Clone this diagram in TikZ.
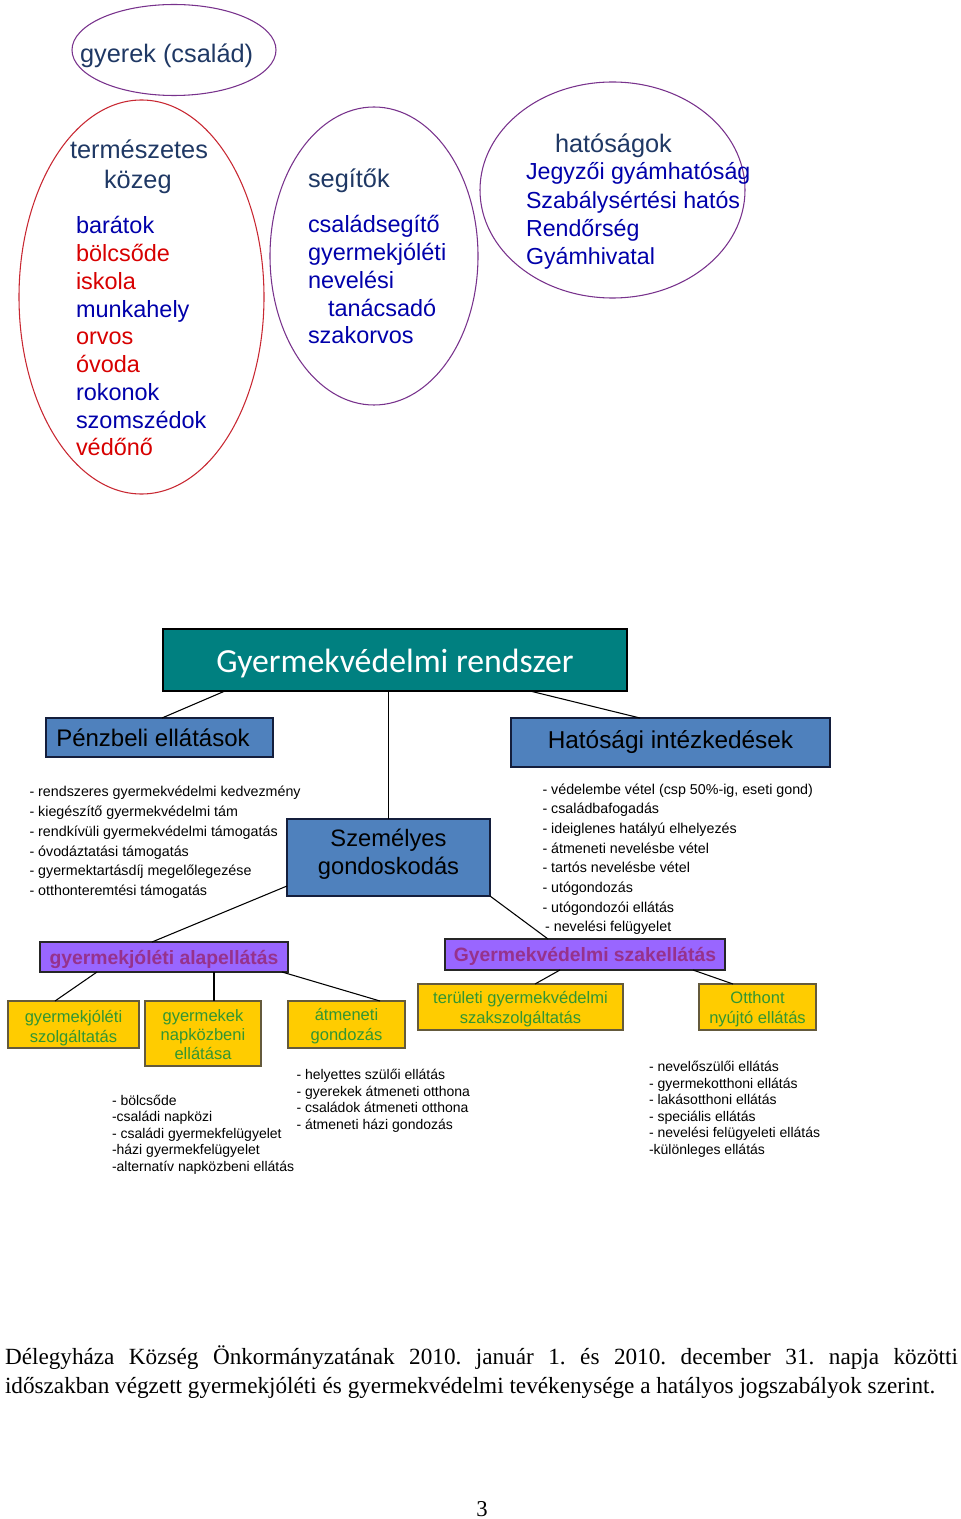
\documentclass[tikz,border=0pt]{standalone}
\usepackage{fontspec}
\setmainfont{Liberation Serif}
\newfontfamily\arial{Liberation Sans}
\newfontfamily\calib{Carlito}
\usetikzlibrary{shapes.geometric,calc}
\definecolor{ellpurple}{RGB}{120,50,140}
\definecolor{ellred}{RGB}{200,40,50}
\definecolor{hdcol}{RGB}{31,56,100}
\definecolor{itblue}{RGB}{0,0,170}
\definecolor{itred}{RGB}{215,0,0}
\definecolor{tealfill}{RGB}{0,128,128}
\definecolor{bluefill}{RGB}{79,129,189}
\definecolor{bluedraw}{RGB}{20,30,60}
\definecolor{purfill}{RGB}{153,102,255}
\definecolor{purtext}{RGB}{150,50,140}
\definecolor{yelfill}{RGB}{255,204,0}
\definecolor{yeldraw}{RGB}{100,90,60}
\definecolor{grtext}{RGB}{50,150,50}
\frenchspacing
\newcommand\dn[2]{\raisebox{-#1}[\height][\depth]{#2}}
\begin{document}
\begin{tikzpicture}[x=0.75pt,y=-0.75pt,
  every node/.style={inner sep=0pt, outer sep=0pt},
  ell/.style={draw=ellpurple, line width=0.8pt, ellipse, inner sep=0pt},
  hd/.style={anchor=base west, text=hdcol, font=\arial\fontsize{19}{22.5}\selectfont},
  itm/.style={anchor=base west, font=\arial\fontsize{17.6}{20.8}\selectfont},
  lst/.style={anchor=base west, font=\arial\fontsize{10.7}{14.9}\selectfont},
  lsts/.style={anchor=base west, font=\arial\fontsize{10.5}{12.4}\selectfont},
  bluebox/.style={draw=bluedraw, fill=bluefill, line width=1.5pt, align=center, font=\arial\fontsize{18.3}{21}\selectfont},
  purbox/.style={draw=black!85, fill=purfill, line width=1.2pt, text=purtext, font=\arial\bfseries\fontsize{14.5}{17}\selectfont},
  yelbox/.style={draw=yeldraw, fill=yelfill, line width=1pt, text=grtext, align=center, font=\arial\fontsize{12.4}{15}\selectfont},
  conn/.style={draw=black, line width=0.8pt}
]
\useasboundingbox (0,0) rectangle (960,1519);

% ---------- ellipses ----------
\node[ell, minimum width=153pt, minimum height=68.25pt] (e0) at (174,50) {};
\node[hd] (t0) at (80,63) {gyerek (család)};

\node[ell, draw=ellred, minimum width=183.75pt, minimum height=295.5pt] (e1) at (141.5,297) {};
\node[hd] (t1) at (70,159) {\parbox[t]{130pt}{természetes\\\hspace*{25.5pt}közeg}};
\node[itm] (l1) at (76,234) {\parbox[t]{120pt}{\leavevmode\color{itblue}barátok\\
\color{itred}bölcsőde\\
\color{itred}iskola\\
\color{itblue}munkahely\\
\color{itred}orvos\\
\color{itred}óvoda\\
\color{itblue}rokonok\\
\color{itblue}szomszédok\\
\color{itred}védőnő}};

\node[ell, minimum width=156pt, minimum height=223.5pt] (e2) at (374,256) {};
\node[hd] (t2) at (308,188) {segítők};
\node[itm, text=itblue] (l2) at (308,233) {\parbox[t]{130pt}{családsegítő\\
gyermekjóléti\\
nevelési\\
\hspace*{15pt}tanácsadó\\
szakorvos}};

\node[ell, minimum width=198.75pt, minimum height=162pt] (e3) at (612.5,190) {};
\node[hd] (t3) at (555,153) {hatóságok};
\node[itm, text=itblue, font=\arial\fontsize{17.4}{21.2}\selectfont] (l3) at (526,180) {\parbox[t]{180pt}{Jegyzői gyámhatóság\\
Szabálysértési hatós\\
Rendőrség\\
Gyámhivatal}};

% ---------- chart boxes ----------
\node[draw=black, fill=tealfill, line width=2.2pt, minimum width=348pt, minimum height=46.5pt,
      text=white, font=\calib\fontsize{25.3}{28}\selectfont] (root) at (395,660) {\dn{3pt}{Gyermekvédelmi rendszer}};
\node[bluebox, minimum width=170.25pt, minimum height=29.25pt, font=\arial\fontsize{18}{20}\selectfont] (pen) at (159.5,737.5) {\hspace*{-9.75pt}Pénzbeli ellátások};
\node[bluebox, minimum width=239.25pt, minimum height=36.75pt] (hat) at (670.5,742.5) {Hatósági intézkedések};
\node[bluebox, minimum width=152.25pt, minimum height=57.75pt, font=\arial\fontsize{17.8}{21}\selectfont] (szem) at (388.5,857.5) {\dn{-2.25pt}{\begin{tabular}{@{}c@{}}Személyes\\gondoskodás\end{tabular}}};

\node[purbox, minimum width=186pt, minimum height=22.5pt] (alap) at (164,957) {\dn{1.5pt}{gyermekjóléti alapellátás}};
\node[purbox, minimum width=210pt, minimum height=23.25pt] (szak) at (585,954.5) {\dn{1.5pt}{Gyermekvédelmi szakellátás}};

\node[yelbox, minimum width=98.25pt, minimum height=35.25pt] (y1) at (73.5,1024.5) {\dn{3pt}{\begin{tabular}{@{}c@{}}gyermekjóléti\\szolgáltatás\end{tabular}}};
\node[yelbox, minimum width=87pt, minimum height=48.75pt, font=\arial\fontsize{12.4}{14.3}\selectfont] (y2) at (203,1033.5) {\dn{2.25pt}{\begin{tabular}{@{}c@{}}gyermekek\\napközbeni\\ellátása\end{tabular}}};
\node[yelbox, minimum width=87.75pt, minimum height=35.25pt] (y3) at (346.5,1024.5) {\dn{1.5pt}{\begin{tabular}{@{}c@{}}átmeneti\\gondozás\end{tabular}}};
\node[yelbox, minimum width=153.75pt, minimum height=34.5pt] (y4) at (520.5,1007) {\dn{2pt}{\begin{tabular}{@{}c@{}}területi gyermekvédelmi\\szakszolgáltatás\end{tabular}}};
\node[yelbox, minimum width=87.75pt, minimum height=34.5pt] (y5) at (757.5,1007) {\dn{2pt}{\begin{tabular}{@{}c@{}}Otthont\\nyújtó ellátás\end{tabular}}};

% ---------- connectors ----------
\draw[conn] ($(root.south west)+(62,0)$) -- ($(pen.north west)+(116,0)$);
\draw[conn] (szem.north) -- (szem.north |- root.south);
\draw[conn] ($(root.south west)+(367,0)$) -- ($(hat.north west)+(129,0)$);
\draw[conn] ($(szem.south west)+(0,-10)$) -- ($(alap.north west)+(112,0)$);
\draw[conn] (szem.south east) -- ($(szak.north west)+(103,0)$);
\draw[conn] ($(alap.south west)+(57,0)$) -- ($(y1.north west)+(47,0)$);
\draw[conn] ($(alap.south west)+(174,0)$) -- ($(y2.north west)+(69,0)$);
\draw[conn] ($(alap.south west)+(242,0)$) -- ($(y3.north west)+(92,0)$);
\draw[conn] ($(szak.south west)+(115,0)$) -- ($(y4.north west)+(117,0)$);
\draw[conn] ($(szak.south west)+(248,0)$) -- ($(y5.north west)+(34,0)$);

% ---------- lists ----------
\node[lst] (pl) at (29.5,796.5) {\parbox[t]{220pt}{- rendszeres gyermekvédelmi kedvezmény\\
- kiegészítő gyermekvédelmi tám\\
- rendkívüli gyermekvédelmi támogatás\\
- óvodáztatási támogatás\\
- gyermektartásdíj megelőlegezése\\
- otthonteremtési támogatás}};

\node[lst, font=\arial\fontsize{10.7}{14.75}\selectfont] (hl) at (542.5,794) {\parbox[t]{230pt}{- védelembe vétel (csp 50\%-ig, eseti gond)\\
- családbafogadás\\
- ideiglenes hatályú elhelyezés\\
- átmeneti nevelésbe vétel\\
- tartós nevelésbe vétel\\
- utógondozás\\
- utógondozói ellátás\\
\hspace*{2pt}- nevelési felügyelet}};

\node[lsts] (bl) at (112,1105) {\parbox[t]{160pt}{- bölcsőde\\
-családi napközi\\
- családi gyermekfelügyelet\\
-házi gyermekfelügyelet\\
-alternatív napközbeni ellátás}};

\node[lsts, font=\arial\fontsize{10.5}{12.45}\selectfont] (al) at (296.5,1079.5) {\parbox[t]{150pt}{- helyettes szülői ellátás\\
- gyerekek átmeneti otthona\\
- családok átmeneti otthona\\
- átmeneti házi gondozás}};

\node[lsts] (ol) at (649,1071.5) {\parbox[t]{160pt}{- nevelőszülői ellátás\\
- gyermekotthoni ellátás\\
- lakásotthoni ellátás\\
- speciális ellátás\\
- nevelési felügyeleti ellátás\\
-különleges ellátás}};

% ---------- footer ----------
\node[anchor=base west, font=\fontsize{17.4}{22}\selectfont] (f1) at (5,1364) {\makebox[714.75pt][s]{Délegyháza Község Önkormányzatának 2010. január 1. és 2010. december 31. napja közötti}};
\node[anchor=base west, font=\fontsize{17.4}{22}\selectfont] (f2) at (5,1393) {időszakban végzett gyermekjóléti és gyermekvédelmi tevékenysége a hatályos jogszabályok szerint.};
\node[anchor=base, font=\fontsize{17}{18}\selectfont] (pg) at (482,1516) {3};
\end{tikzpicture}
\end{document}
